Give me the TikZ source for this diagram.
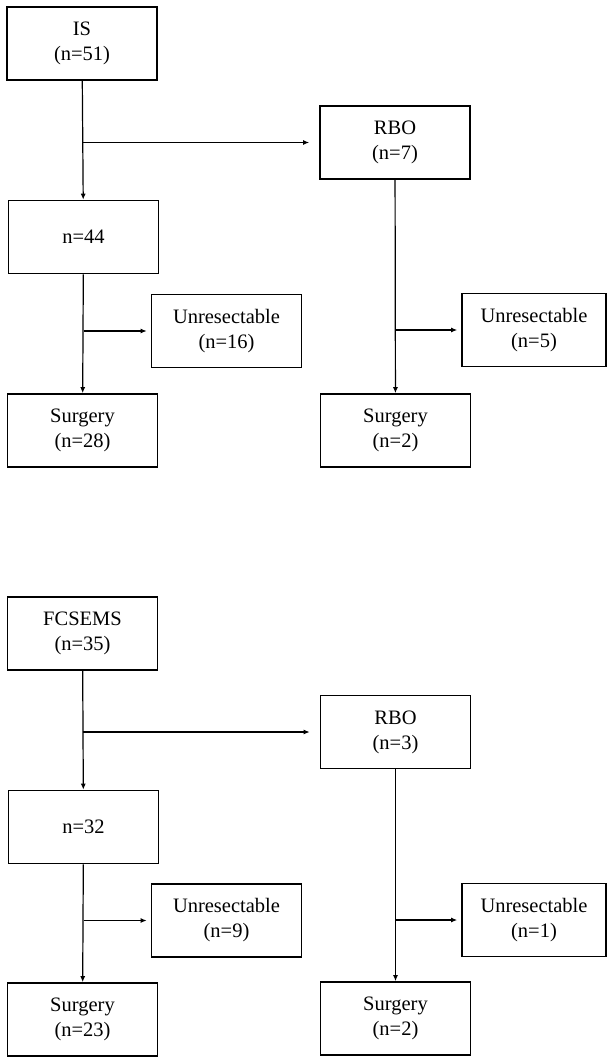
\documentclass[tikz,border=0pt]{standalone}
\usepackage{fontspec}
\setmainfont{Liberation Serif}
\usetikzlibrary{arrows.meta}
\tikzset{
  flowbox/.style={draw, line width=1.6pt, minimum width=150pt, minimum height=73pt, inner sep=0pt, align=center, font=\fontsize{20.5}{25}\selectfont},
  edgebox/.style={flowbox, minimum width=144pt},
  flowarrow/.style={line width=1.2pt, -{Latex[length=6pt,width=5pt]}}
}

\begin{document}
\begin{tikzpicture}[x=1pt, y=-1pt]
			%%%%% START %%%%%
			\useasboundingbox (0,0) rectangle (608,1057);
			
			% IS arm
			\node[flowbox] (isStart) at (82, 43.5) {IS\\(n=51)};
			\node[flowbox] (isRbo) at (395, 142.5) {RBO\\(n=7)};
			\node[flowbox] (isRest) at (83.5, 237) {n=44};
			\node[flowbox] (isUnres) at (226.5, 331) {Unresectable\\(n=16)};
			\node[edgebox] (isRboUnres) at (534, 330) {Unresectable\\(n=5)};
			\node[flowbox] (isSurg) at (82.5, 430.5) {Surgery\\(n=28)};
			\node[flowbox] (isRboSurg) at (395.5, 430.5) {Surgery\\(n=2)};
			
			\draw[flowarrow] (isStart) -- (isRest);
			\draw[flowarrow, shorten >=10pt] (isStart.south |- isRbo.west) -- (isRbo.west);
			\draw[flowarrow] (isRest) -- (isSurg);
			\draw[flowarrow, shorten >=4pt] (isRest.south |- isUnres.west) -- (isUnres.west);
			\draw[flowarrow] (isRbo) -- (isRboSurg);
			\draw[flowarrow, shorten >=4pt] (isRbo.south |- isRboUnres.west) -- (isRboUnres.west);
			
			% FCSEMS arm
			\node[flowbox] (fcStart) at (82.5, 633.5) {FCSEMS\\(n=35)};
			\node[flowbox] (fcRbo) at (395.5, 732) {RBO\\(n=3)};
			\node[flowbox] (fcRest) at (83.5, 827) {n=32};
			\node[flowbox] (fcUnres) at (226.5, 920.5) {Unresectable\\(n=9)};
			\node[edgebox] (fcRboUnres) at (534, 920) {Unresectable\\(n=1)};
			\node[flowbox] (fcSurg) at (82.5, 1019.5) {Surgery\\(n=23)};
			\node[flowbox] (fcRboSurg) at (395.5, 1018.5) {Surgery\\(n=2)};
			
			\draw[flowarrow] (fcStart) -- (fcRest);
			\draw[flowarrow, shorten >=10pt] (fcStart.south |- fcRbo.west) -- (fcRbo.west);
			\draw[flowarrow] (fcRest) -- (fcSurg);
			\draw[flowarrow, shorten >=4pt] (fcRest.south |- fcUnres.west) -- (fcUnres.west);
			\draw[flowarrow] (fcRbo) -- (fcRboSurg);
			\draw[flowarrow, shorten >=4pt] (fcRbo.south |- fcRboUnres.west) -- (fcRboUnres.west);
			
			%%%%% END %%%%%
\end{tikzpicture}
\end{document}
